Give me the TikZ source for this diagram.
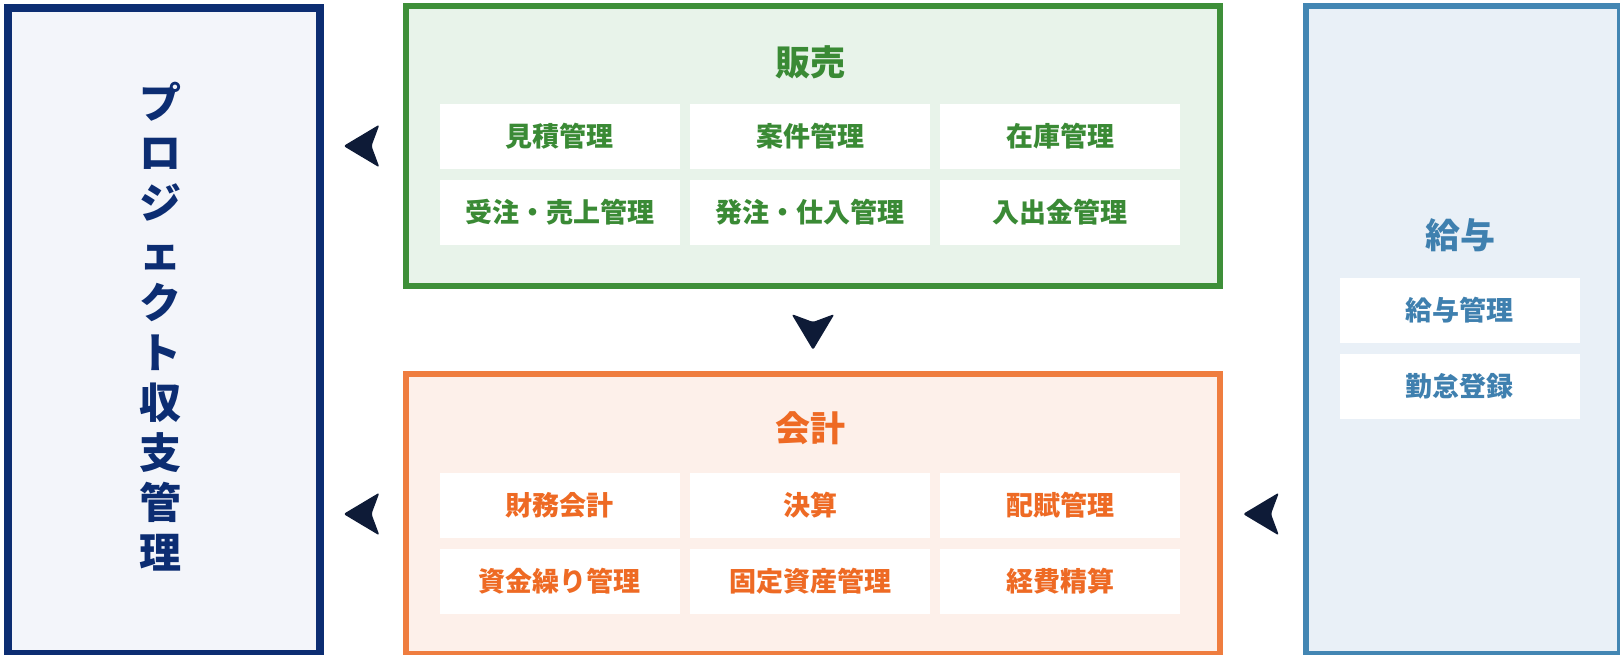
\documentclass[tikz,border=0pt]{standalone}
\usepackage{fontspec}
\setmainfont{Noto Sans CJK JP}
\usetikzlibrary{calc}
\definecolor{projblue}{HTML}{0C2D72}
\definecolor{projfill}{HTML}{F3F5FA}
\definecolor{salesgreen}{HTML}{3E8F39}
\definecolor{salestext}{HTML}{3A8A35}
\definecolor{salesfill}{HTML}{E8F3EA}
\definecolor{acctorange}{HTML}{EF7D3F}
\definecolor{accttext}{HTML}{EE6A24}
\definecolor{acctfill}{HTML}{FDF0EA}
\definecolor{payblue}{HTML}{4386B3}
\definecolor{paytext}{HTML}{3F80AF}
\definecolor{payfill}{HTML}{E9F0F7}
\definecolor{arrowcol}{HTML}{0E1B37}
\tikzset{
  panel/.style={draw, line width=3pt, inner sep=0pt, anchor=north west},
  cell/.style={fill=white, minimum width=120pt, minimum height=32.5pt, inner sep=0pt,
    font=\bfseries\fontsize{13.5}{16}\selectfont},
  kop/.style={font=\bfseries\fontsize{17.5}{20}\selectfont},
  dart/.pic={\fill[arrowcol, rounded corners=1.2pt] (-20,0) -- (16,-21.5) -- (8,0) -- (16,21.5) -- cycle;}
}
\begin{document}
\begin{tikzpicture}[x=0.5pt, y=-0.5pt]
\useasboundingbox (0,0) rectangle (1620,654);
% Projekt
\node[panel, color=projblue, fill=projfill, line width=4pt, minimum width=156pt, minimum height=323pt] (proj) at (4,4) {};
\node[font=\bfseries\fontsize{21}{25}\selectfont, text=projblue, align=center] (projtitle) at (160,327)
  {プ\\ロ\\ジ\\ェ\\ク\\ト\\収\\支\\管\\理};
% Verkoop
\node[panel, color=salesgreen, fill=salesfill, minimum width=407pt, minimum height=140pt] (sales) at (403,3) {};
\node[kop, text=salestext] (salestitle) at (810,62) {販売};
\foreach \t/\x/\y [count=\i] in {見積管理/559.5/136.5, 案件管理/810/136.5, 在庫管理/1060/136.5,
    受注・売上管理/559.5/212.5, 発注・仕入管理/810/212.5, 入出金管理/1060/212.5}
  \node[cell, text=salestext] (s\i) at (\x,\y) {\t};
% Boekhouding
\node[panel, color=acctorange, fill=acctfill, minimum width=407pt, minimum height=140pt] (acct) at (403,371) {};
\node[kop, text=accttext] (accttitle) at (810,428) {会計};
\foreach \t/\x/\y [count=\i] in {財務会計/559.5/505, 決算/810/505, 配賦管理/1060/505,
    資金繰り管理/559.5/581, 固定資産管理/810/581, 経費精算/1060/581}
  \node[cell, text=accttext] (a\i) at (\x,\y) {\t};
% Salaris
\node[panel, color=payblue, fill=payfill, minimum width=157pt, minimum height=324pt] (pay) at (1303,3) {};
\node[kop, text=paytext] (paytitle) at (1460,235) {給与};
\foreach \t/\y [count=\i] in {給与管理/310.5, 勤怠登録/386.5}
  \node[cell, text=paytext] (p\i) at (1459.5,\y) {\t};
% Pijlen
\pic at ($(proj.east |- sales.west)!0.5!(sales.west)$) {dart};
\pic at ($(proj.east |- acct.west)!0.5!(acct.west)$) {dart};
\pic[rotate=90] at ($(sales.south)!0.5!(acct.north)$) {dart};
\pic at ($(acct.east)!0.5!(pay.west |- acct.east)$) {dart};
\end{tikzpicture}
\end{document}
